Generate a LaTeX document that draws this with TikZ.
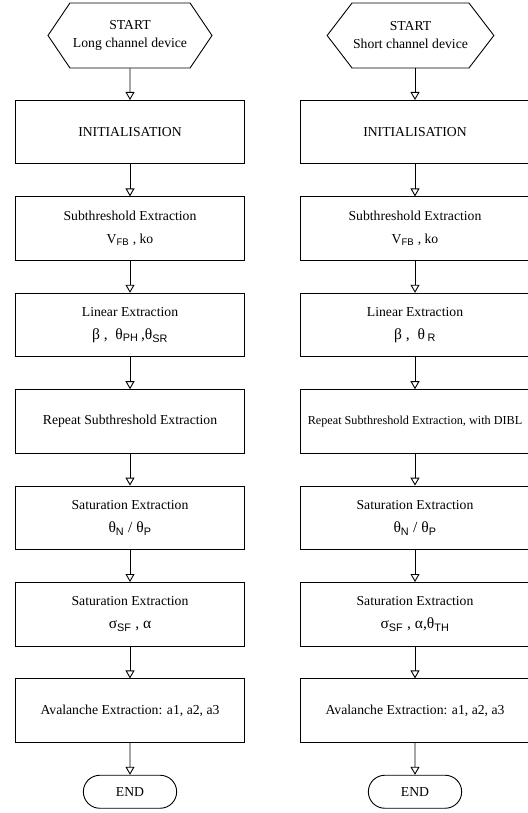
\documentclass[tikz,border=0pt]{standalone}
\usepackage{fontspec}
\setmainfont{Liberation Serif}
\setsansfont{Liberation Sans}
\usetikzlibrary{positioning,shapes.symbols,shapes.misc,arrows.meta}

\newcommand{\sub}[1]{\textsubscript{\sffamily #1}}
\newcommand{\gk}[1]{{\fontsize{15.5}{23}\selectfont #1}}

\tikzset{
  procbox/.style={draw, line width=0.9pt, minimum width=229pt, minimum height=63.5pt,
    align=center, inner sep=2pt, font=\fontsize{13.7}{23}\selectfont},
  startbox/.style={draw, line width=0.9pt, signal, signal to=east and west,
    minimum height=65pt, align=center, inner sep=1pt, font=\fontsize{13.7}{18}\selectfont},
  endbox/.style={draw, line width=0.9pt, rounded rectangle, minimum width=100pt,
    minimum height=33pt, font=\fontsize{13.7}{16}\selectfont},
  flow/.style={-{Triangle[open,length=8pt,width=9pt]}, line width=0.9pt}
}

\begin{document}
\begin{tikzpicture}[x=1pt,y=-1pt]
\useasboundingbox (0,0) rectangle (527,813);

% Long channel device
\node[startbox, minimum width=164pt, signal pointer angle=112] (startL) at (130,35.5) {START\\Long channel device};
\node[procbox, anchor=north] (initL) at (130,100) {INITIALISATION};
\node[procbox, below=32pt of initL] (subL) {Subthreshold Extraction\\V\sub{FB} , ko};
\node[procbox, below=32pt of subL] (linL) {Linear Extraction\\\gk{β ,~~θ\sub{PH}\,,θ\sub{SR}}};
\node[procbox, below=32pt of linL] (repL) {Repeat Subthreshold Extraction};
\node[procbox, below=32pt of repL] (satL) {Saturation Extraction\\\gk{θ\sub{N} / θ\sub{P}}};
\node[procbox, below=32pt of satL] (sigL) {Saturation Extraction\\\gk{σ\sub{SF} , α}};
\node[procbox, below=32pt of sigL] (avaL) {Avalanche Extraction: a1, a2, a3};
\node[endbox, below=32pt of avaL] (endL) {END};

% Short channel device
\node[startbox, minimum width=155pt, signal pointer angle=105] (startR) at (410.5,35.5) {START\\Short channel device};
\node[procbox, anchor=north] (initR) at (415,100) {INITIALISATION};
\node[procbox, below=32pt of initR] (subR) {Subthreshold Extraction\\V\sub{FB} , ko};
\node[procbox, below=32pt of subR] (linR) {Linear Extraction\\\gk{β ,~~θ\,\sub{R}}};
\node[procbox, below=32pt of linR, font=\fontsize{12.2}{23}\selectfont] (repR) {Repeat Subthreshold Extraction, with DIBL};
\node[procbox, below=32pt of repR] (satR) {Saturation Extraction\\\gk{θ\sub{N} / θ\sub{P}}};
\node[procbox, below=32pt of satR] (sigR) {Saturation Extraction\\\gk{σ\sub{SF} , α,θ\sub{TH}}};
\node[procbox, below=32pt of sigR] (avaR) {Avalanche Extraction: a1, a2, a3};
\node[endbox, below=32pt of avaR] (endR) {END};

% Connectors
\draw[flow] (startL) -- (initL);
\draw[flow] (startR.south -| initR.north) -- (initR.north);
\foreach \s in {L,R}{
  \foreach \a/\b in {init/sub, sub/lin, lin/rep, rep/sat, sat/sig, sig/ava, ava/end}
    \draw[flow] (\a\s) -- (\b\s);
}
\end{tikzpicture}
\end{document}
